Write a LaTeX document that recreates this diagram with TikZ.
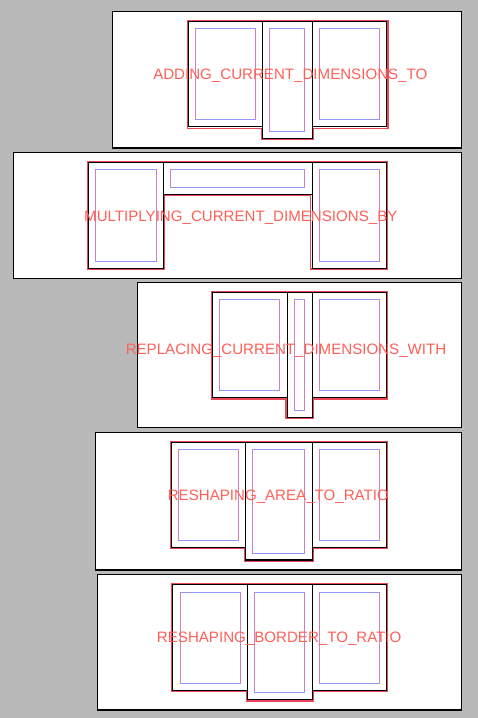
\documentclass[tikz,border=0pt]{standalone}
\usepackage{fontspec}
\setmainfont{Liberation Sans}
\usetikzlibrary{positioning}

\definecolor{bggray}{RGB}{185,185,185}
\definecolor{outlinered}{RGB}{232,72,88}
\definecolor{labelred}{RGB}{255,96,86}
\definecolor{innerblue}{RGB}{150,148,245}
\definecolor{innerpink}{RGB}{208,128,192}

\begin{document}
\begin{tikzpicture}[
  x=1pt, y=-1pt,
  panel/.style={
    draw=black,
    line width=1.1pt,
    fill=white
  },
  outline/.style={
    draw=outlinered,
    line width=1.1pt,
    line join=miter
  },
  box/.style={
    draw=black,
    line width=1.4pt
  },
  inner/.style={
    draw=innerblue,
    line width=0.8pt
  },
  innerside/.style={
    draw=innerpink,
    line width=0.8pt
  },
  caption/.style={
    text=labelred,
    font=\fontsize{15.1}{17}\selectfont,
    inner sep=0pt,
    anchor=base
  }
]
  \fill[bggray] (0,0) rectangle (478,718);
  \useasboundingbox (0,0) rectangle (478,718);

  % adding current dimensions
  \draw[panel] (112.3,11.3) rectangle (461.5,148);
  \draw[outline] (187.7,20.3) -- (388,20.3) -- (388,128.3) -- (313,128.3)
    -- (313,139) -- (261.3,139) -- (261.3,128.3) -- (187.7,128.3) -- cycle;
  \draw[box] (188.3,21.3) rectangle (262.7,126.7);
  \draw[box] (262.7,21.3) rectangle (312.3,138.3);
  \draw[box] (312.3,21.3) rectangle (386.7,126.7);
  \draw[inner] (195.3,28.7) rectangle (255.3,119.3);
  \draw[innerside] (195.3,28.7) -- (195.3,119.3) (255.3,28.7) -- (255.3,119.3);
  \draw[inner] (269.3,28.7) rectangle (304.7,131.3);
  \draw[innerside] (269.3,28.7) -- (269.3,131.3) (304.7,28.7) -- (304.7,131.3);
  \draw[inner] (319.3,28.7) rectangle (379.7,119.3);
  \draw[innerside] (319.3,28.7) -- (319.3,119.3) (379.7,28.7) -- (379.7,119.3);
  \node[caption] (adding) at (290.3,79) {ADDING\_CURRENT\_DIMENSIONS\_TO};

  % multiplying current dimensions
  \draw[panel] (13.3,152.7) rectangle (461.3,278.3);
  \draw[outline] (87.3,162) -- (387,162) -- (387,269) -- (310.3,269)
    -- (310.3,195.3) -- (164.3,195.3) -- (164.3,269) -- (87.3,269) -- cycle;
  \draw[box] (88.3,162.7) rectangle (163.7,268.3);
  \draw[box] (163.7,162.7) rectangle (312.3,194.3);
  \draw[box] (312.3,162.7) rectangle (386.3,268.3);
  \draw[inner] (95.7,169.3) rectangle (156.7,261);
  \draw[innerside] (95.7,169.3) -- (95.7,261) (156.7,169.3) -- (156.7,261);
  \draw[inner] (170.3,169.3) rectangle (304.7,187.3);
  \draw[innerside] (170.3,169.3) -- (170.3,187.3) (304.7,169.3) -- (304.7,187.3);
  \draw[inner] (319.7,169.3) rectangle (379.3,261);
  \draw[innerside] (319.7,169.3) -- (319.7,261) (379.3,169.3) -- (379.3,261);
  \node[caption] (multiplying) at (240.8,221.2)
    {MULTIPLYING\_CURRENT\_DIMENSIONS\_BY};

  % replacing current dimensions
  \draw[panel] (137.3,282.7) rectangle (461.3,427.3);
  \draw[outline] (211.3,292) -- (387.3,292) -- (387.3,399) -- (313,399)
    -- (313,418) -- (286,418) -- (286,399) -- (211.3,399) -- cycle;
  \draw[box] (212.3,292.7) rectangle (287.3,397.3);
  \draw[box] (287.3,292.7) rectangle (312.3,417.3);
  \draw[box] (312.3,292.7) rectangle (386.3,397.3);
  \draw[inner] (219.3,299.3) rectangle (279.3,390);
  \draw[innerside] (219.3,299.3) -- (219.3,390) (279.3,299.3) -- (279.3,390);
  \draw[inner] (294.3,299.3) rectangle (304.7,410.3);
  \draw[innerside] (294.3,299.3) -- (294.3,410.3) (304.7,299.3) -- (304.7,410.3);
  \draw[inner] (319.3,299.3) rectangle (379.7,390);
  \draw[innerside] (319.3,299.3) -- (319.3,390) (379.7,299.3) -- (379.7,390);
  \node[caption] (replacing) at (286,354)
    {REPLACING\_CURRENT\_DIMENSIONS\_WITH};

  % reshaping area to ratio
  \draw[panel] (95.3,432.7) rectangle (461.3,570);
  \draw[outline] (170.3,441.7) -- (387,441.7) -- (387,548) -- (313,548)
    -- (313,561) -- (244.7,561) -- (244.7,548) -- (170.3,548) -- cycle;
  \draw[box] (171.3,442.7) rectangle (245.3,547.3);
  \draw[box] (245.3,442.7) rectangle (312.3,560);
  \draw[box] (312.3,442.7) rectangle (386.3,547.3);
  \draw[inner] (178.7,449.3) rectangle (238.7,540);
  \draw[innerside] (178.7,449.3) -- (178.7,540) (238.7,449.3) -- (238.7,540);
  \draw[inner] (252.7,449.3) rectangle (304.7,553.3);
  \draw[innerside] (252.7,449.3) -- (252.7,553.3) (304.7,449.3) -- (304.7,553.3);
  \draw[inner] (319.7,449.3) rectangle (379.3,540);
  \draw[innerside] (319.7,449.3) -- (319.7,540) (379.3,449.3) -- (379.3,540);
  \node[caption] (area) at (278.3,500.5) {RESHAPING\_AREA\_TO\_RATIO};

  % reshaping border to ratio
  \draw[panel] (97.3,574.7) rectangle (461.3,710);
  \draw[outline] (171.7,584) -- (387.3,584) -- (387.3,691) -- (313.3,691)
    -- (313.3,701) -- (246.7,701) -- (246.7,691) -- (171.7,691) -- cycle;
  \draw[box] (172.3,584.7) rectangle (247.3,690.7);
  \draw[box] (247.3,584.7) rectangle (312.3,699.3);
  \draw[box] (312.3,584.7) rectangle (386.7,690.7);
  \draw[inner] (180.7,592.3) rectangle (240.7,683);
  \draw[innerside] (180.7,592.3) -- (180.7,683) (240.7,592.3) -- (240.7,683);
  \draw[inner] (254.7,592.3) rectangle (304.3,692);
  \draw[innerside] (254.7,592.3) -- (254.7,692) (304.3,592.3) -- (304.3,692);
  \draw[inner] (319.3,592.3) rectangle (379.3,683);
  \draw[innerside] (319.3,592.3) -- (319.3,683) (379.3,592.3) -- (379.3,683);
  \node[caption] (border) at (279.2,642.4) {RESHAPING\_BORDER\_TO\_RATIO};
\end{tikzpicture}
\end{document}
